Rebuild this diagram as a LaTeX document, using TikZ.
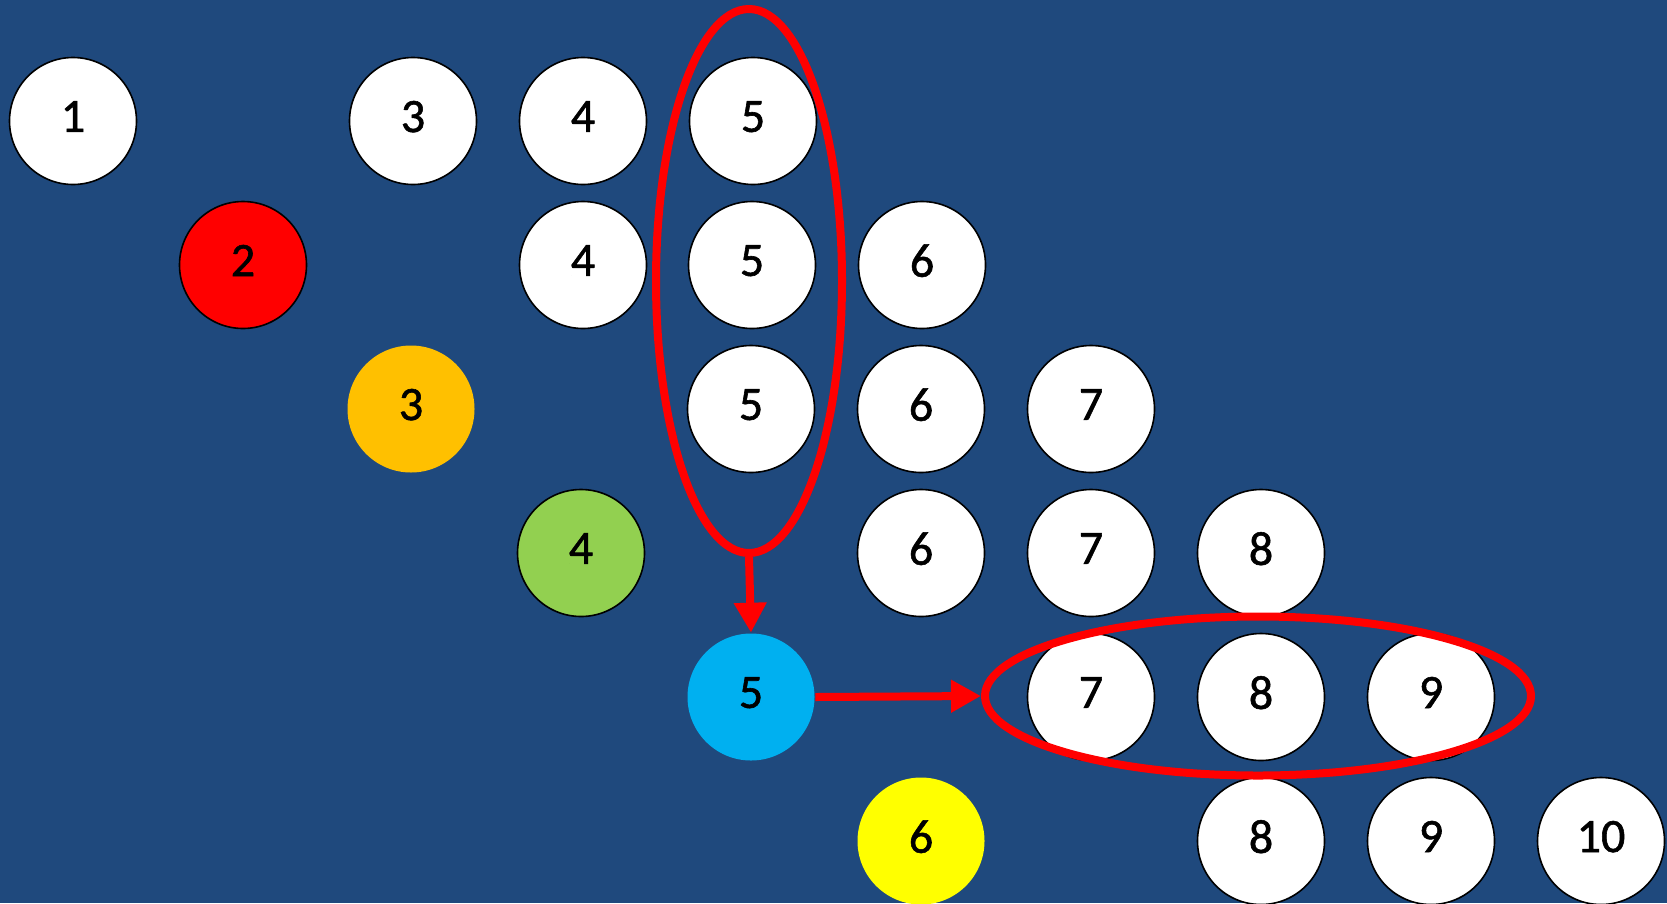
\documentclass[tikz,border=0pt]{standalone}
\usepackage{fontspec}
\setmainfont{Carlito}
\newfontfamily\digitfont[FakeBold=1.2]{Carlito}
\usetikzlibrary{shapes.geometric,arrows.meta}
\definecolor{bg}{RGB}{31,73,125}
\definecolor{cred}{RGB}{255,0,0}
\definecolor{corange}{RGB}{255,192,0}
\definecolor{cgreen}{RGB}{146,208,80}
\definecolor{cblue}{RGB}{0,176,240}
\definecolor{cyellow}{RGB}{255,255,0}
\begin{document}
\begin{tikzpicture}[x=1pt,y=-1pt,
  ball/.style={circle,minimum size=127pt,inner sep=0pt,draw=black,line width=1.6pt,fill=white,
    font=\digitfont\fontsize{48}{56}\selectfont,text depth=9pt},
  plain/.style={ball,draw=none},
  ring/.style={ellipse,draw=cred,line width=8pt,inner sep=0pt},
  redarrow/.style={draw=cred,line width=8pt,-{Triangle[length=30pt,width=31pt]}}]
\fill[bg] (0,0) rectangle (1667,903);
\useasboundingbox (0,0) rectangle (1667,903);
% row 1
\node[ball] (r1c1) at (73,121) {1};
\node[ball] (r1c3) at (413,121) {3};
\node[ball] (r1c4) at (583,121) {4};
\node[ball] (r1c5) at (753,121) {5};
% row 2
\node[ball,fill=cred] (r2c2) at (243,265) {2};
\node[ball] (r2c4) at (583,265) {4};
\node[ball] (r2c5) at (752,265) {5};
\node[ball] (r2c6) at (922,265) {6};
% row 3
\node[plain,fill=corange] (r3c3) at (411,409) {3};
\node[ball] (r3c5) at (751,409) {5};
\node[ball] (r3c6) at (921,409) {6};
\node[ball] (r3c7) at (1091,409) {7};
% row 4
\node[ball,fill=cgreen] (r4c4) at (581,553) {4};
\node[ball] (r4c6) at (921,553) {6};
\node[ball] (r4c7) at (1091,553) {7};
\node[ball] (r4c8) at (1261,553) {8};
% row 5
\node[plain,fill=cblue] (r5c5) at (751,697) {5};
\node[ball] (r5c7) at (1091,697) {7};
\node[ball] (r5c8) at (1261,697) {8};
\node[ball] (r5c9) at (1431,697) {9};
% row 6
\node[plain,fill=cyellow] (r6c6) at (921,841) {6};
\node[ball] (r6c8) at (1261,841) {8};
\node[ball] (r6c9) at (1431,841) {9};
\node[ball] (r6c10) at (1601,841) {10};
% rings
\node[ring,minimum width=186pt,minimum height=544pt] (vring) at (749,281) {};
\node[ring,minimum width=546pt,minimum height=159pt] (hring) at (1258,696) {};
% arrows
\draw[redarrow] (vring.south) -- (r5c5.north);
\draw[redarrow] (r5c5.east) -- (hring.west);
\end{tikzpicture}
\end{document}
